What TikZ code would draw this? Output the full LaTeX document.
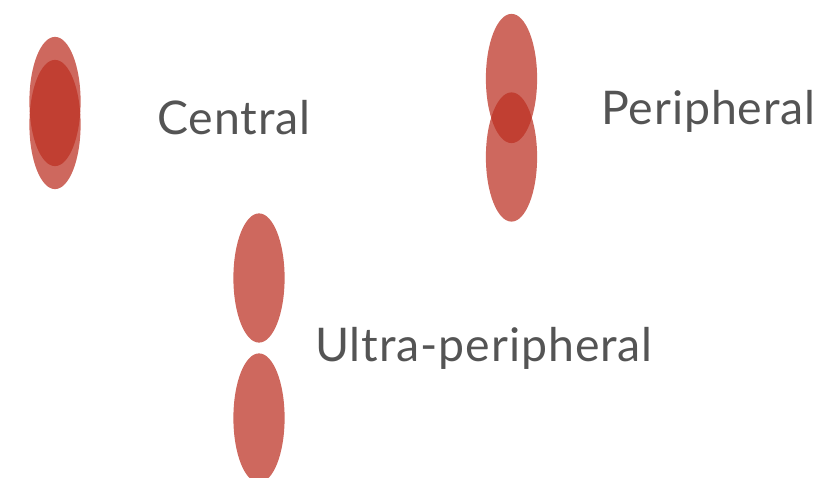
\documentclass[tikz,border=0pt]{standalone}
\usepackage{fontspec}
\setmainfont{Lato}[LetterSpace=2]
\usetikzlibrary{shapes.geometric}
\definecolor{lobe}{RGB}{188,48,34}
\definecolor{txtgray}{RGB}{84,84,84}

\begin{document}
\begin{tikzpicture}[x=0.025cm, y=-0.025cm,
    blob/.style={ellipse, fill=lobe, fill opacity=0.73, inner sep=0pt, minimum width=1.28cm, minimum height=3.23cm},
    label/.style={anchor=base west, text=txtgray, inner sep=0pt, font=\fontsize{33}{39}\selectfont}
]
\useasboundingbox (0,0) rectangle (823,478);

% Central
\node[blob] (c1) at (55,101.5) {};
\node[blob] (c2) at (55,124.5) {};
\node[label] (central) at (157,135) {Central};

% Peripheral
\node[blob] (p1) at (511.5,78.5) {};
\node[blob] (p2) at (511.5,157) {};
\node[label] (peri) at (601,125) {Peripheral};

% Ultra-peripheral
\node[blob] (u1) at (259,278) {};
\node[blob] (u2) at (259,418) {};
\node[label] (ultra) at (315,362) {Ultra-peripheral};
\end{tikzpicture}
\end{document}
